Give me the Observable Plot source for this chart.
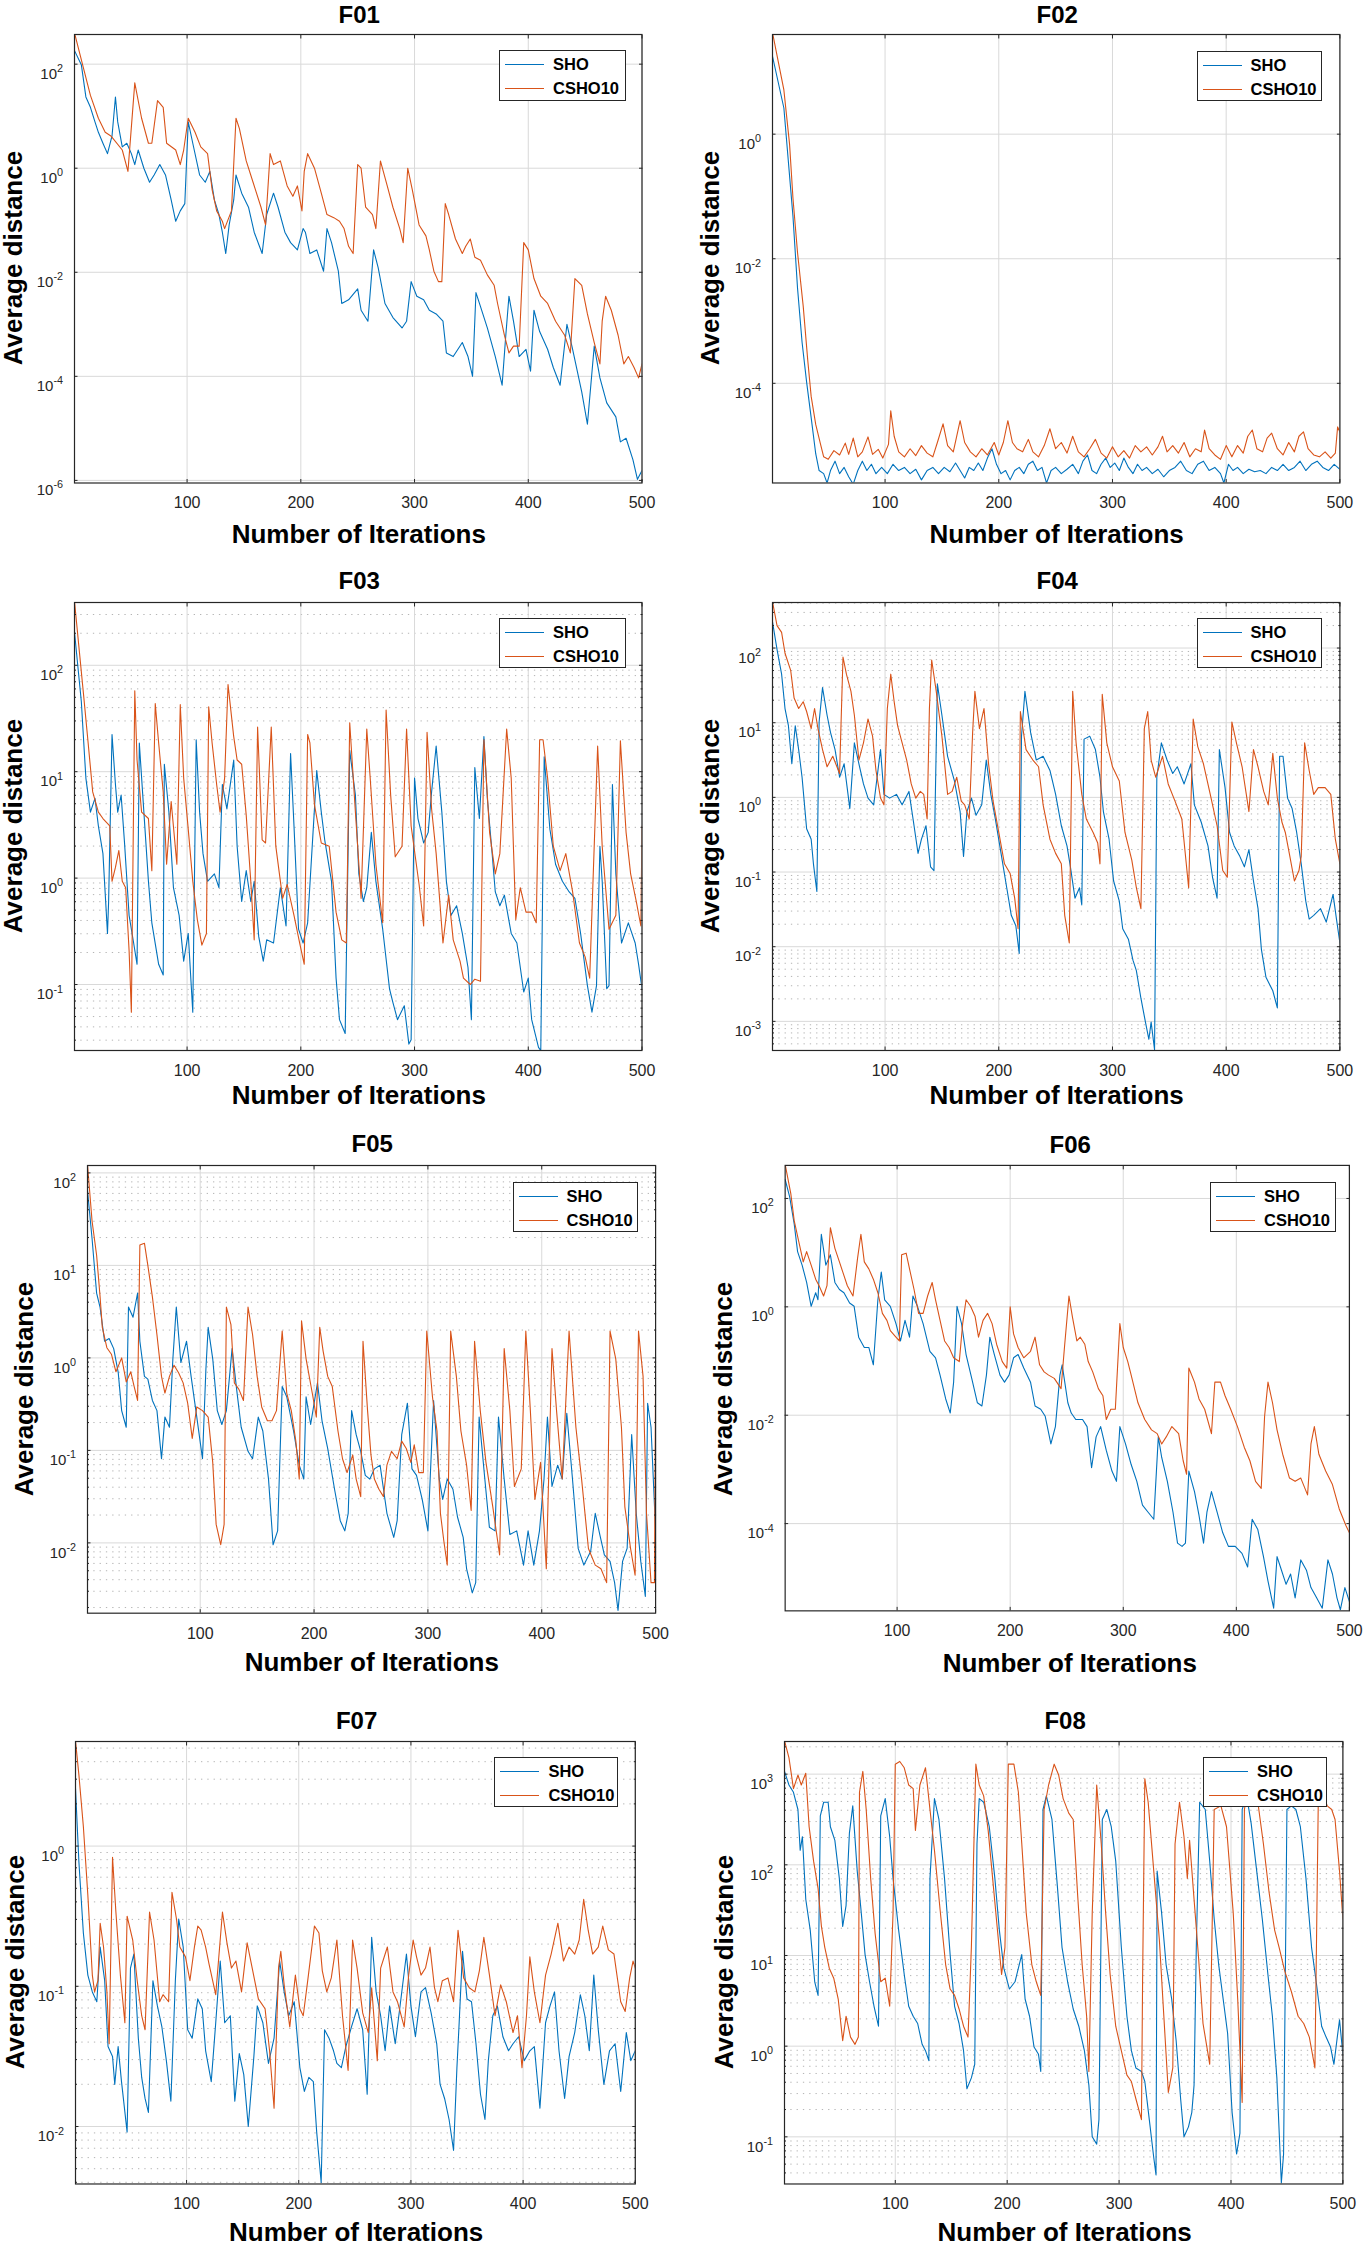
<!DOCTYPE html>
<html>
<head>
<meta charset="utf-8">
<script src="https://cdn.jsdelivr.net/npm/d3@7"></script>
<script src="https://cdn.jsdelivr.net/npm/@observablehq/plot@0.6"></script>
<style>
  html, body { margin: 0; padding: 0; background: #ffffff; }
  body { width: 1369px; height: 2245px; position: relative; overflow: hidden;
         font-family: "Liberation Sans", Arial, Helvetica, sans-serif; }
  .abs { position: absolute; }
  .title { font-weight: bold; font-size: 24px; color: #000; white-space: nowrap;
           transform: translate(-50%, -50%); line-height: 1; }
  .xlab { font-weight: bold; font-size: 26px; color: #000; white-space: nowrap;
          transform: translate(-50%, -50%); line-height: 1; }
  .ylab { font-weight: bold; font-size: 26px; color: #000; white-space: nowrap;
          transform: translate(-50%, -50%) rotate(-90deg); line-height: 1; }
  .legend { border: 1.3px solid #262626; background: #ffffff; box-sizing: border-box; }
  .legrow { position: absolute; left: 0; right: 0; height: 0; }
  .legline { position: absolute; left: 5px; width: 39px; height: 0; border-top: 1.3px solid; }
  .legtext { position: absolute; left: 53px; font-weight: bold; font-size: 16.5px; color: #000;
             transform: translateY(-50%); line-height: 1; white-space: nowrap; }
</style>
</head>
<body>
<div id="root"></div>
<script>
// ---------------- data: [iteration, log10(average distance)] ----------------
const seriesNames = ["SHO", "CSHO10"];
const xTicks = [100, 200, 300, 400, 500];

const f01Sho = [[1,2.26],[7,1.99],[11,1.37],[15,1.17],[19,0.89],[22,0.69],[26,0.48],[30,0.28],[34,0.62],[37,1.37],[39,0.89],[43,0.41],[47,0.48],[51,0.28],[54,0.07],[57,0.35],[62,0.0],[67,-0.27],[71,-0.13],[76,0.07],[81,-0.13],[86,-0.61],[90,-1.02],[94,-0.82],[98,-0.68],[101,0.89],[105,0.48],[111,-0.13],[116,-0.27],[120,-0.06],[124,-0.61],[128,-0.89],[131,-1.23],[134,-1.64],[137,-1.09],[141,-0.61],[143,-0.13],[148,-0.48],[154,-0.75],[159,-1.23],[166,-1.64],[170,-0.89],[176,-0.48],[180,-0.75],[186,-1.23],[191,-1.43],[197,-1.57],[202,-1.16],[204,-1.23],[208,-1.64],[214,-1.57],[220,-1.98],[223,-1.16],[227,-1.43],[233,-1.98],[236,-2.60],[242,-2.53],[250,-2.32],[253,-2.73],[259,-2.94],[264,-1.57],[268,-1.91],[274,-2.60],[281,-2.87],[289,-3.07],[293,-2.94],[297,-2.18],[302,-2.46],[308,-2.53],[313,-2.73],[319,-2.80],[325,-2.94],[328,-3.55],[334,-3.62],[342,-3.35],[347,-3.62],[351,-4.00],[354,-2.39],[358,-2.66],[364,-3.07],[371,-3.62],[377,-4.17],[380,-3.28],[383,-2.46],[387,-2.94],[392,-3.62],[398,-3.48],[402,-3.90],[405,-2.73],[410,-3.14],[417,-3.48],[422,-3.83],[428,-4.17],[434,-3.00],[439,-3.48],[447,-4.30],[452,-4.92],[458,-3.42],[463,-4.03],[469,-4.51],[477,-4.78],[481,-5.26],[486,-5.19],[492,-5.60],[496,-5.98],[500,-5.81]];
const f01Csho = [[1,2.6],[15,1.40],[22,0.96],[28,0.69],[33,0.62],[43,0.35],[48,-0.06],[54,1.64],[60,0.96],[66,0.48],[69,0.48],[74,1.30],[79,1.17],[82,0.48],[90,0.35],[94,0.07],[97,0.35],[101,0.96],[107,0.69],[112,0.41],[118,0.28],[122,-0.41],[126,-0.82],[131,-1.02],[133,-1.16],[139,-0.82],[143,0.96],[146,0.76],[152,0.14],[158,-0.27],[165,-0.75],[169,-1.09],[173,0.28],[176,0.07],[182,0.14],[188,-0.34],[193,-0.54],[197,-0.34],[201,-0.82],[203,-0.06],[206,0.28],[212,0.0],[218,-0.48],[223,-0.89],[229,-0.95],[234,-1.02],[238,-1.16],[242,-1.50],[246,-1.64],[250,0.07],[253,0.0],[257,-0.75],[263,-0.89],[266,-1.16],[270,0.14],[276,-0.34],[281,-0.75],[287,-1.16],[290,-1.43],[294,0.0],[298,-0.41],[304,-1.09],[310,-1.30],[313,-1.57],[317,-1.98],[321,-2.18],[324,-2.18],[327,-0.68],[330,-0.89],[336,-1.36],[342,-1.64],[345,-1.50],[349,-1.36],[353,-1.71],[358,-1.77],[364,-2.05],[370,-2.25],[373,-2.60],[379,-3.21],[383,-3.55],[387,-3.42],[392,-3.42],[396,-1.43],[400,-1.57],[405,-2.12],[411,-2.46],[417,-2.60],[424,-2.94],[432,-3.21],[437,-3.55],[441,-2.12],[447,-2.25],[452,-2.80],[458,-3.35],[463,-3.76],[465,-2.94],[468,-2.46],[473,-2.73],[479,-3.21],[484,-3.76],[488,-3.62],[493,-3.83],[497,-4.03],[500,-3.76]];

const f02Sho = [[1,1.25],[11,0.42],[15,-0.45],[19,-1.32],[23,-2.47],[27,-3.34],[31,-3.98],[35,-4.55],[39,-5.13],[42,-5.40],[46,-5.45],[49,-5.60],[52,-5.40],[56,-5.25],[60,-5.45],[64,-5.35],[68,-5.50],[72,-5.62],[76,-5.40],[80,-5.25],[84,-5.40],[88,-5.30],[92,-5.45],[97,-5.35],[102,-5.45],[107,-5.30],[112,-5.40],[117,-5.35],[122,-5.45],[127,-5.38],[132,-5.55],[137,-5.40],[142,-5.35],[147,-5.45],[152,-5.35],[157,-5.42],[162,-5.28],[166,-5.40],[170,-5.52],[174,-5.35],[178,-5.40],[182,-5.28],[186,-5.40],[190,-5.20],[194,-5.05],[198,-5.30],[202,-5.45],[206,-5.40],[210,-5.55],[214,-5.40],[218,-5.35],[222,-5.45],[226,-5.30],[230,-5.25],[234,-5.40],[238,-5.35],[242,-5.60],[246,-5.40],[250,-5.35],[255,-5.45],[260,-5.38],[265,-5.30],[270,-5.45],[274,-5.25],[278,-5.15],[282,-5.40],[286,-5.45],[290,-5.30],[294,-5.20],[298,-5.35],[302,-5.28],[306,-5.40],[310,-5.20],[314,-5.35],[318,-5.45],[322,-5.30],[326,-5.40],[330,-5.35],[335,-5.45],[340,-5.38],[345,-5.50],[350,-5.40],[355,-5.35],[360,-5.25],[365,-5.40],[370,-5.45],[375,-5.30],[380,-5.25],[385,-5.40],[390,-5.35],[395,-5.45],[398,-5.60],[402,-5.30],[406,-5.40],[410,-5.35],[415,-5.45],[420,-5.38],[425,-5.42],[430,-5.40],[435,-5.45],[440,-5.35],[445,-5.40],[450,-5.30],[455,-5.40],[460,-5.35],[465,-5.25],[470,-5.40],[475,-5.30],[480,-5.25],[485,-5.35],[490,-5.40],[495,-5.30],[500,-5.38]];
const f02Csho = [[1,1.63],[11,0.71],[16,-0.16],[19,-1.03],[23,-1.90],[28,-2.76],[32,-3.63],[35,-4.21],[39,-4.66],[43,-4.96],[46,-5.18],[50,-5.22],[55,-5.08],[60,-5.15],[65,-4.96],[68,-5.14],[72,-4.88],[76,-5.18],[80,-5.10],[85,-4.86],[89,-5.14],[94,-5.06],[98,-5.20],[103,-4.98],[105,-4.44],[108,-4.85],[112,-5.10],[117,-5.18],[122,-5.05],[127,-5.16],[132,-5.00],[137,-5.12],[142,-5.18],[146,-4.95],[151,-4.65],[155,-5.00],[160,-5.10],[166,-4.60],[170,-4.95],[175,-5.10],[180,-5.18],[185,-5.05],[190,-5.15],[196,-4.95],[200,-5.15],[204,-4.95],[208,-4.60],[212,-4.95],[216,-5.05],[221,-5.10],[226,-4.90],[230,-5.10],[235,-5.18],[240,-5.00],[245,-4.73],[250,-5.05],[255,-4.95],[260,-5.12],[265,-4.85],[270,-5.10],[275,-5.18],[280,-5.05],[285,-4.90],[290,-5.12],[295,-5.20],[300,-5.02],[305,-5.18],[310,-5.08],[315,-5.20],[320,-5.00],[325,-5.10],[330,-5.02],[335,-5.15],[340,-5.02],[344,-4.85],[348,-5.10],[353,-5.00],[358,-5.12],[363,-4.95],[368,-5.18],[373,-5.05],[378,-5.10],[381,-4.75],[385,-5.05],[390,-5.15],[395,-5.22],[400,-5.00],[405,-5.18],[410,-5.00],[415,-5.12],[419,-4.85],[423,-4.75],[427,-5.05],[432,-5.10],[436,-4.88],[440,-4.80],[445,-5.05],[450,-5.15],[455,-4.95],[460,-5.10],[464,-4.85],[468,-4.78],[472,-5.05],[477,-5.15],[482,-5.18],[487,-5.10],[492,-5.20],[496,-5.12],[498,-4.70],[500,-4.78]];

const f03Sho = [[1,2.31],[7,1.66],[11,0.94],[15,0.62],[19,0.75],[22,0.49],[26,0.23],[30,-0.52],[31,-0.22],[34,1.35],[37,0.88],[39,0.62],[42,0.78],[45,0.33],[49,-0.35],[53,-0.61],[56,-0.81],[58,1.27],[62,0.62],[66,-0.03],[69,-0.42],[75,-0.81],[79,-0.91],[80,1.07],[84,0.62],[88,-0.09],[93,-0.35],[97,-0.78],[101,-0.52],[105,-1.26],[108,1.30],[111,0.62],[114,0.23],[118,-0.03],[124,0.04],[128,-0.09],[131,0.88],[135,0.65],[141,1.11],[144,0.30],[148,-0.22],[152,0.07],[156,-0.22],[159,-0.03],[163,-0.55],[167,-0.78],[170,-0.58],[176,-0.61],[182,-0.09],[187,-0.45],[191,1.17],[194,0.49],[198,-0.48],[202,-0.61],[206,-0.42],[214,1.01],[218,0.62],[221,0.36],[227,-0.03],[231,-0.94],[234,-1.33],[239,-1.46],[243,1.20],[248,0.78],[251,0.04],[255,-0.22],[258,-0.09],[262,0.43],[266,-0.03],[272,-0.48],[278,-1.04],[281,-1.17],[285,-1.33],[291,-1.20],[295,-1.56],[297,-1.52],[300,0.94],[303,0.56],[308,0.33],[312,0.43],[315,0.81],[319,1.24],[324,0.62],[328,-0.03],[332,-0.35],[337,-0.26],[342,-0.52],[347,-0.84],[350,-1.33],[353,1.04],[357,0.56],[361,1.33],[364,0.75],[368,0.26],[371,-0.13],[375,-0.26],[379,-0.16],[385,-0.52],[390,-0.61],[396,-1.07],[400,-0.94],[403,-1.33],[409,-1.59],[411,-1.62],[414,1.14],[419,0.46],[424,0.13],[430,-0.03],[436,-0.13],[441,-0.19],[446,-0.52],[452,-1.01],[456,-1.26],[460,-1.01],[463,0.30],[465,-0.03],[469,-1.04],[471,-1.01],[474,0.88],[477,0.04],[482,-0.61],[488,-0.42],[494,-0.61],[497,-0.81],[500,-1.04]];
const f03Csho = [[1,2.6],[9,1.72],[13,1.27],[17,0.81],[22,0.62],[26,0.56],[32,0.49],[34,-0.03],[37,0.10],[40,0.26],[43,-0.03],[46,-0.09],[49,-0.68],[51,-1.26],[54,1.76],[56,1.11],[60,0.62],[66,0.56],[69,0.07],[72,1.64],[75,1.27],[79,0.81],[82,0.13],[86,0.72],[91,0.13],[94,1.63],[97,0.94],[101,0.46],[105,-0.03],[109,-0.39],[113,-0.63],[117,-0.52],[119,1.61],[122,1.27],[126,0.88],[129,0.62],[133,0.94],[136,1.82],[141,1.33],[144,1.11],[148,1.07],[152,0.59],[156,-0.03],[159,-0.58],[162,1.42],[166,0.36],[169,0.33],[174,1.42],[178,0.30],[184,-0.19],[188,-0.06],[194,-0.35],[199,-0.61],[203,-0.81],[206,1.35],[208,1.27],[212,0.69],[218,0.33],[225,0.30],[231,-0.32],[236,-0.58],[240,-0.61],[243,1.46],[248,0.62],[253,-0.19],[258,1.40],[261,0.94],[266,0.13],[272,-0.42],[275,1.58],[279,0.78],[283,0.20],[289,0.30],[293,1.40],[297,0.49],[304,-0.06],[308,-0.45],[311,1.37],[315,0.65],[319,0.23],[325,-0.61],[330,-0.16],[334,-0.58],[340,-0.78],[343,-0.94],[349,-1.00],[353,-0.95],[358,-0.97],[361,1.30],[366,0.43],[371,0.04],[375,0.23],[381,1.40],[385,0.94],[389,-0.39],[393,-0.09],[398,-0.32],[403,-0.32],[407,-0.42],[410,1.30],[413,1.30],[417,0.94],[422,0.30],[428,0.07],[433,0.23],[439,-0.13],[445,-0.61],[450,-0.74],[454,-0.94],[461,1.24],[465,0.30],[471,-0.48],[477,-0.35],[481,1.29],[486,0.43],[490,0.04],[495,-0.22],[499,-0.45],[500,0.49]];

const f04Sho = [[1,2.35],[5,1.98],[9,1.65],[12,1.19],[15,0.96],[18,0.45],[21,0.96],[24,0.64],[27,0.27],[31,-0.42],[35,-0.56],[37,-0.89],[40,-1.26],[42,1.01],[45,1.47],[49,1.10],[52,0.87],[56,0.64],[60,0.27],[64,0.45],[69,-0.15],[73,0.73],[77,0.45],[81,0.18],[85,-0.01],[90,-0.10],[96,0.64],[99,0.04],[104,-0.01],[110,0.04],[115,-0.10],[121,0.08],[125,-0.33],[129,-0.75],[132,-0.56],[136,-0.38],[140,-0.93],[143,-0.98],[146,1.52],[150,1.10],[155,0.55],[161,0.22],[166,-0.19],[169,-0.79],[172,-0.19],[176,-0.01],[180,-0.24],[185,-0.10],[189,0.50],[193,0.04],[197,-0.29],[202,-0.75],[207,-1.21],[211,-1.58],[215,-1.72],[218,-2.09],[220,0.82],[223,1.42],[228,0.87],[233,0.50],[239,0.55],[245,0.36],[250,0.04],[255,-0.38],[260,-0.65],[263,-0.93],[267,-1.35],[271,-1.21],[273,-1.44],[275,0.78],[280,0.82],[285,0.64],[289,0.27],[292,-0.19],[297,-0.56],[301,-1.12],[306,-1.39],[309,-1.76],[314,-1.90],[318,-2.18],[321,-2.32],[325,-2.69],[329,-3.01],[332,-3.24],[334,-3.01],[337,-3.38],[339,0.27],[343,0.73],[348,0.50],[353,0.32],[357,0.41],[363,0.18],[369,0.45],[372,-0.10],[378,-0.33],[384,-0.65],[388,-1.07],[392,-1.35],[394,0.64],[399,0.13],[403,-0.47],[407,-0.65],[412,-0.79],[416,-0.93],[420,-0.70],[424,-1.12],[428,-1.49],[431,-2.04],[435,-2.41],[441,-2.59],[445,-2.82],[447,0.55],[450,0.55],[454,-0.01],[458,-0.15],[462,-0.47],[466,-0.89],[470,-1.39],[473,-1.63],[477,-1.58],[483,-1.49],[488,-1.67],[494,-1.30],[497,-1.63],[500,-1.95]];
const f04Csho = [[1,2.62],[5,2.30],[9,2.21],[12,1.93],[17,1.70],[20,1.33],[24,1.19],[28,1.28],[31,1.15],[35,0.92],[38,1.19],[41,0.92],[45,0.64],[49,0.41],[54,0.55],[60,0.32],[63,1.88],[66,1.65],[70,1.42],[73,1.10],[77,0.50],[81,0.73],[85,1.05],[89,0.82],[92,0.36],[96,-0.01],[99,-0.10],[102,1.19],[105,1.65],[108,1.28],[111,0.96],[115,0.73],[119,0.50],[123,0.18],[127,-0.01],[131,0.08],[134,0.04],[137,-0.29],[139,1.19],[141,1.84],[145,1.42],[150,0.82],[155,0.04],[159,0.08],[163,0.27],[167,-0.05],[170,-0.10],[174,-0.29],[177,0.87],[179,1.42],[183,0.92],[187,1.19],[191,0.45],[195,-0.05],[200,-0.47],[205,-0.89],[210,-1.02],[214,-1.35],[217,-1.76],[219,1.15],[224,0.64],[230,0.50],[235,0.41],[239,-0.10],[245,-0.56],[250,-0.75],[255,-0.89],[258,-1.58],[262,-1.95],[265,1.42],[268,0.73],[273,0.04],[277,-0.29],[283,-0.47],[287,-0.61],[289,-0.89],[291,1.38],[295,0.73],[300,0.41],[306,0.22],[311,-0.47],[317,-0.84],[321,-1.21],[325,-1.49],[328,0.92],[331,1.15],[334,0.50],[338,0.27],[344,0.55],[349,0.18],[355,-0.05],[361,-0.29],[367,-1.21],[371,1.05],[375,0.68],[380,0.45],[386,0.04],[392,-0.38],[397,-0.98],[401,-1.07],[405,1.01],[409,0.73],[414,0.41],[420,-0.19],[424,0.64],[428,0.41],[433,0.08],[437,-0.10],[441,0.59],[445,-0.01],[449,-0.33],[452,-0.47],[456,-0.79],[460,-1.12],[464,-0.98],[466,-0.79],[469,0.73],[473,0.36],[477,0.04],[481,0.13],[487,0.13],[492,0.04],[496,-0.56],[500,-0.89]];

const f05Sho = [[1,1.81],[5,1.29],[9,0.70],[12,0.55],[16,0.18],[20,0.21],[24,0.10],[28,-0.16],[31,-0.57],[35,-0.75],[37,0.55],[41,0.44],[45,0.70],[47,0.18],[51,-0.20],[54,-0.23],[58,-0.46],[62,-0.57],[66,-1.09],[69,-0.64],[73,-0.75],[76,-0.01],[79,0.55],[83,-0.05],[88,0.18],[92,-0.20],[97,-0.64],[102,-1.09],[105,-0.12],[107,0.33],[111,-0.01],[115,-0.57],[119,-0.72],[123,-0.57],[128,0.10],[132,-0.34],[136,-0.75],[142,-1.01],[146,-1.09],[151,-0.64],[155,-0.79],[160,-1.31],[164,-2.02],[168,-1.87],[172,-0.31],[176,-0.42],[182,-0.79],[187,-1.16],[191,-1.31],[193,-0.42],[197,-0.72],[203,-0.27],[207,-0.68],[212,-0.98],[218,-1.42],[223,-1.76],[227,-1.87],[230,-1.68],[233,-0.57],[237,-0.83],[241,-1.01],[245,-1.27],[249,-1.31],[253,-1.20],[258,-1.16],[264,-1.68],[270,-1.94],[273,-1.76],[277,-0.83],[282,-0.49],[286,-1.20],[290,-1.27],[295,-1.53],[300,-1.87],[305,-0.46],[310,-1.31],[313,-1.53],[317,-1.31],[322,-1.42],[326,-1.72],[331,-1.94],[334,-2.28],[339,-2.54],[342,-2.43],[345,-0.64],[350,-1.31],[354,-1.83],[359,-1.87],[362,-0.64],[367,-1.31],[372,-1.91],[378,-1.87],[384,-2.24],[388,-1.87],[393,-2.24],[398,-1.87],[402,-1.31],[405,-0.64],[409,-1.39],[414,-1.16],[418,-1.31],[422,-0.60],[427,-1.31],[432,-2.06],[437,-2.24],[443,-2.09],[447,-1.68],[451,-1.91],[455,-2.13],[460,-2.20],[464,-2.43],[467,-2.73],[471,-2.20],[475,-2.06],[479,-0.83],[483,-1.68],[487,-2.20],[491,-2.58],[493,-0.49],[496,-0.75],[500,-1.87]];
const f05Csho = [[1,2.09],[5,1.48],[9,1.11],[12,0.67],[14,0.33],[18,0.11],[22,0.04],[26,-0.15],[31,0.00],[35,-0.26],[39,-0.15],[42,-0.31],[45,-0.46],[47,1.22],[51,1.24],[54,1.00],[58,0.66],[62,0.25],[66,-0.20],[69,-0.38],[73,-0.20],[77,-0.08],[81,-0.16],[85,-0.27],[89,-0.49],[93,-0.87],[97,-0.53],[102,-0.57],[107,-0.64],[111,-1.13],[114,-1.80],[118,-2.02],[121,-1.80],[123,0.55],[127,0.36],[130,-0.27],[134,-0.34],[138,-0.46],[142,0.55],[146,0.25],[150,-0.20],[154,-0.53],[159,-0.68],[163,-0.68],[167,-0.57],[172,0.29],[176,-0.38],[180,-0.57],[184,-0.90],[187,-1.31],[189,0.40],[193,-0.01],[199,-0.42],[202,-0.64],[205,0.33],[208,0.07],[212,-0.20],[216,-0.31],[221,-0.79],[225,-1.09],[229,-1.24],[234,-1.05],[237,-1.31],[241,-1.50],[243,0.18],[247,-0.57],[250,-1.05],[253,-1.31],[257,-1.42],[261,-1.50],[264,-1.16],[268,-1.01],[273,-1.09],[277,-0.90],[281,-0.98],[285,-1.13],[288,-0.94],[292,-1.24],[296,-1.24],[299,0.29],[304,-0.42],[308,-0.79],[311,-1.68],[314,-1.98],[317,-2.24],[320,0.29],[325,-0.20],[329,-0.79],[334,-1.16],[338,-1.65],[341,0.18],[346,-0.57],[351,-1.13],[357,-1.61],[363,-2.13],[367,0.10],[372,-0.57],[376,-1.39],[382,-1.20],[386,0.29],[390,-0.57],[394,-1.53],[399,-1.13],[404,-2.28],[409,0.10],[413,-0.57],[418,-1.31],[424,0.29],[430,-0.75],[435,-1.31],[441,-2.06],[447,-2.24],[452,-2.28],[457,-2.43],[460,0.29],[465,-0.01],[470,-0.75],[473,-1.61],[478,-2.06],[482,-2.35],[485,0.29],[489,-0.20],[492,-1.68],[496,-2.43],[499,-2.43],[500,-0.20]];

const f06Sho = [[1,2.35],[5,2.03],[9,1.53],[12,1.02],[16,0.77],[20,0.45],[24,0.01],[28,0.26],[30,0.13],[33,1.34],[37,0.77],[41,0.96],[45,0.45],[49,0.32],[53,0.26],[58,0.07],[62,0.01],[66,-0.56],[71,-0.75],[75,-0.75],[79,-1.07],[83,0.13],[86,0.64],[89,0.13],[94,0.01],[99,-0.31],[103,-0.63],[107,-0.25],[111,-0.56],[114,0.20],[118,0.01],[123,-0.31],[129,-0.82],[134,-0.94],[138,-1.26],[143,-1.70],[147,-1.96],[150,-1.39],[153,0.01],[157,-0.31],[161,-0.88],[166,-1.32],[171,-1.77],[175,-1.83],[179,-1.26],[182,-0.56],[186,-0.88],[191,-1.26],[195,-1.39],[199,-1.26],[203,-0.94],[207,-0.88],[212,-1.13],[218,-1.39],[222,-1.83],[227,-1.89],[231,-2.02],[236,-2.53],[240,-2.21],[244,-1.26],[246,-1.07],[251,-1.77],[254,-1.96],[258,-2.08],[264,-2.08],[268,-2.21],[272,-2.97],[276,-2.40],[280,-2.21],[285,-2.65],[290,-3.03],[294,-3.22],[297,-2.21],[302,-2.53],[307,-2.91],[312,-3.22],[317,-3.66],[322,-3.79],[327,-3.92],[331,-2.40],[334,-2.78],[339,-3.22],[344,-3.79],[348,-4.36],[352,-4.42],[355,-4.36],[358,-3.03],[363,-3.41],[367,-3.85],[371,-4.36],[374,-3.79],[378,-3.41],[383,-3.79],[388,-4.17],[393,-4.42],[399,-4.42],[405,-4.55],[410,-4.80],[414,-3.92],[419,-4.11],[424,-4.61],[428,-5.06],[433,-5.56],[436,-4.61],[439,-4.80],[444,-5.12],[448,-4.93],[452,-5.37],[457,-4.67],[462,-4.86],[466,-5.18],[471,-5.37],[476,-5.56],[481,-4.67],[485,-4.93],[489,-5.37],[492,-5.59],[496,-5.18],[500,-5.44]];
const f06Csho = [[1,2.63],[6,2.09],[9,1.59],[13,1.21],[17,0.83],[20,1.02],[24,0.77],[28,0.51],[31,0.39],[35,0.20],[38,0.39],[41,1.46],[45,1.08],[49,0.83],[52,0.64],[56,0.39],[61,0.20],[65,0.89],[68,1.34],[71,0.83],[75,0.70],[79,0.51],[83,0.26],[87,-0.12],[91,-0.25],[94,-0.44],[99,-0.56],[102,-0.63],[104,0.96],[108,0.99],[111,0.70],[115,0.32],[119,-0.12],[123,-0.12],[127,0.20],[131,0.45],[134,0.13],[138,-0.25],[142,-0.63],[146,-0.75],[150,-0.94],[155,-1.01],[158,-0.31],[161,0.13],[165,0.01],[169,-0.18],[172,-0.56],[176,-0.25],[180,-0.12],[184,-0.31],[188,-0.69],[193,-1.01],[197,-1.13],[200,0.0],[203,-0.50],[207,-0.75],[212,-0.94],[218,-0.82],[222,-0.56],[226,-1.07],[230,-1.20],[234,-1.26],[239,-1.32],[245,-1.51],[248,-0.75],[252,0.20],[255,-0.18],[259,-0.63],[262,-0.56],[266,-0.69],[269,-1.01],[273,-1.20],[278,-1.51],[282,-1.64],[285,-2.08],[289,-1.89],[293,-1.89],[297,-0.31],[300,-0.75],[304,-1.01],[307,-1.26],[313,-1.77],[319,-2.08],[325,-2.27],[330,-2.34],[334,-2.53],[338,-2.40],[343,-2.21],[349,-2.34],[353,-2.84],[356,-3.09],[358,-1.13],[363,-1.39],[367,-1.70],[372,-1.89],[378,-2.34],[381,-1.39],[386,-1.39],[390,-1.64],[395,-1.89],[401,-2.21],[407,-2.59],[412,-2.84],[417,-3.22],[422,-3.35],[425,-2.02],[428,-1.39],[432,-1.77],[436,-2.27],[441,-2.72],[447,-3.16],[452,-3.22],[457,-3.16],[463,-3.47],[466,-2.53],[469,-2.21],[473,-2.72],[479,-3.03],[485,-3.28],[491,-3.73],[497,-4.04],[500,-4.17]];

const f07Sho = [[1,0.41],[4,-0.11],[8,-0.62],[12,-0.92],[16,-1.04],[20,-1.11],[23,-0.72],[27,-0.96],[30,-1.43],[34,-1.50],[36,-1.70],[39,-1.43],[42,-1.68],[47,-2.04],[50,-0.87],[53,-0.77],[57,-1.37],[60,-1.65],[63,-1.80],[66,-1.90],[70,-0.96],[74,-1.14],[78,-1.29],[82,-1.53],[86,-1.82],[90,-0.96],[93,-0.52],[97,-0.72],[101,-1.31],[105,-1.37],[110,-1.09],[114,-1.16],[117,-1.46],[122,-1.68],[126,-1.26],[130,-0.82],[134,-1.26],[139,-1.21],[143,-1.82],[147,-1.48],[151,-1.63],[155,-2.00],[160,-1.50],[163,-1.14],[168,-1.26],[173,-1.55],[178,-1.37],[183,-0.82],[187,-1.04],[191,-1.21],[196,-1.11],[201,-1.58],[205,-1.75],[209,-1.65],[213,-1.68],[216,-2.04],[220,-2.40],[223,-1.31],[227,-1.37],[231,-1.46],[234,-1.55],[238,-1.58],[242,-1.43],[247,-1.29],[252,-1.16],[257,-1.31],[261,-1.77],[265,-0.65],[269,-1.04],[273,-1.21],[277,-1.46],[281,-1.14],[286,-1.41],[290,-1.16],[296,-0.77],[300,-1.14],[304,-1.36],[309,-1.04],[313,-1.01],[318,-1.19],[323,-1.41],[326,-1.70],[330,-1.80],[334,-1.95],[338,-2.17],[341,-1.58],[343,-1.26],[346,-0.75],[350,-1.09],[354,-1.11],[358,-1.41],[362,-1.77],[366,-1.95],[369,-1.53],[373,-1.21],[377,-1.14],[382,-1.36],[387,-1.46],[391,-1.41],[396,-1.36],[401,-1.53],[406,-1.46],[410,-1.43],[415,-1.87],[420,-1.26],[424,-1.14],[428,-1.04],[432,-1.46],[437,-1.80],[441,-1.50],[446,-1.33],[451,-1.06],[455,-1.21],[459,-1.46],[463,-0.92],[467,-1.31],[472,-1.70],[477,-1.46],[482,-1.41],[487,-1.75],[492,-1.33],[496,-1.53],[500,-1.46]];
const f07Csho = [[1,0.75],[4,0.51],[8,0.14],[12,-0.35],[16,-0.92],[18,-1.04],[21,-0.96],[23,-0.55],[26,-0.72],[29,-1.04],[31,-1.41],[34,-0.08],[37,-0.47],[41,-0.92],[45,-1.26],[47,-0.50],[52,-0.67],[56,-0.96],[60,-1.21],[63,-1.31],[67,-0.47],[71,-0.67],[76,-1.11],[79,-1.06],[84,-1.11],[87,-0.33],[91,-0.52],[94,-0.72],[99,-0.79],[103,-0.96],[107,-0.72],[110,-0.57],[113,-0.60],[117,-0.72],[120,-0.84],[126,-1.06],[132,-0.47],[136,-0.69],[140,-0.87],[144,-0.82],[149,-1.04],[154,-0.69],[159,-0.89],[164,-1.09],[170,-1.16],[174,-1.46],[178,-1.87],[182,-0.87],[184,-0.75],[187,-0.99],[192,-1.29],[197,-0.92],[201,-1.16],[204,-1.21],[208,-0.96],[214,-0.57],[218,-0.62],[221,-0.89],[225,-1.04],[229,-0.94],[234,-0.67],[239,-1.21],[244,-1.60],[248,-0.67],[252,-0.87],[257,-1.19],[262,-1.33],[265,-1.01],[270,-1.53],[273,-0.87],[279,-0.72],[284,-1.04],[288,-1.11],[294,-1.29],[298,-0.92],[302,-0.67],[305,-0.79],[309,-0.92],[313,-0.87],[317,-0.72],[321,-1.01],[324,-1.11],[328,-0.96],[333,-0.94],[338,-1.11],[342,-0.60],[347,-0.94],[352,-1.01],[357,-1.04],[361,-0.89],[365,-0.65],[370,-0.92],[375,-1.21],[380,-0.99],[385,-1.11],[391,-1.33],[395,-1.21],[399,-1.58],[403,-1.21],[406,-0.79],[410,-1.04],[415,-1.26],[420,-0.92],[425,-0.77],[431,-0.55],[436,-0.82],[441,-0.72],[446,-0.77],[450,-0.67],[454,-0.38],[458,-0.60],[462,-0.77],[467,-0.72],[471,-0.57],[476,-0.74],[481,-0.77],[487,-1.11],[491,-1.18],[495,-0.94],[498,-0.82],[500,-0.87]];

const f08Sho = [[1,3.03],[5,2.88],[9,2.80],[13,2.61],[15,2.16],[17,2.31],[20,1.62],[24,1.28],[28,0.71],[31,0.56],[33,2.54],[36,2.69],[40,2.69],[42,2.42],[46,2.27],[50,1.85],[53,1.32],[56,1.55],[59,2.35],[62,2.65],[66,1.93],[69,1.55],[73,1.01],[77,0.71],[81,0.44],[85,0.22],[87,2.54],[91,2.73],[95,2.31],[98,1.85],[103,1.28],[108,0.79],[112,0.44],[116,0.33],[120,0.25],[124,0.02],[127,-0.05],[130,-0.16],[131,1.85],[135,2.73],[139,2.50],[144,1.85],[149,1.01],[153,0.44],[157,0.25],[161,-0.05],[164,-0.47],[168,-0.35],[171,-0.20],[173,2.23],[175,2.73],[179,2.69],[184,2.42],[189,1.85],[193,1.28],[197,0.86],[202,0.63],[207,0.71],[213,1.01],[216,0.52],[220,0.33],[224,-0.01],[228,-0.09],[230,-0.28],[232,2.61],[235,2.76],[240,2.50],[245,1.74],[249,1.09],[254,0.71],[259,0.41],[264,0.22],[269,-0.05],[273,-0.43],[276,-1.00],[280,-1.08],[282,-0.81],[285,2.50],[289,2.61],[293,2.42],[297,2.04],[302,1.09],[307,0.33],[311,-0.05],[315,-0.24],[320,-0.28],[323,-0.39],[327,-0.81],[331,-1.23],[333,-1.42],[334,1.93],[338,1.47],[342,0.90],[347,0.52],[351,0.06],[355,-0.58],[358,-1.00],[362,-0.89],[365,-0.73],[367,-0.43],[369,1.09],[372,2.69],[377,2.61],[381,2.04],[385,1.40],[389,0.90],[393,0.52],[397,0.14],[401,-0.73],[405,-1.19],[408,-0.96],[410,2.61],[414,2.76],[418,2.46],[423,1.93],[428,1.40],[433,0.79],[437,0.33],[441,-0.35],[445,-1.51],[447,-1.19],[450,2.61],[454,2.65],[458,2.61],[462,2.42],[467,1.85],[472,1.09],[477,0.63],[481,0.22],[485,0.10],[489,-0.01],[492,-0.20],[495,0.10],[497,0.29],[500,-0.09]];
const f08Csho = [[1,3.37],[5,3.18],[9,2.84],[13,2.99],[16,2.88],[20,3.01],[23,2.42],[27,2.04],[31,1.74],[34,1.32],[37,1.09],[41,0.86],[45,0.75],[49,0.52],[53,0.06],[56,0.33],[60,0.10],[64,0.02],[67,0.10],[68,2.80],[71,3.03],[74,2.61],[78,1.85],[82,1.24],[87,0.71],[91,0.75],[95,0.44],[98,1.47],[100,3.11],[104,3.14],[108,3.07],[112,2.88],[116,2.84],[118,2.38],[122,2.88],[127,3.07],[131,2.61],[135,2.16],[140,1.51],[145,0.90],[149,0.63],[153,0.56],[157,0.41],[161,0.22],[165,0.10],[168,1.09],[172,3.11],[175,2.88],[179,2.76],[183,2.38],[187,1.85],[191,1.32],[195,0.79],[198,1.09],[201,3.11],[206,3.11],[210,2.80],[213,2.24],[217,1.47],[222,0.90],[226,0.71],[230,0.56],[233,2.61],[237,2.88],[242,3.11],[246,2.99],[250,2.73],[255,2.57],[259,2.50],[263,1.66],[267,0.90],[271,0.33],[273,-0.28],[276,1.47],[280,2.88],[284,2.24],[288,1.47],[292,0.79],[297,0.22],[302,-0.05],[307,-0.32],[311,-0.39],[315,-0.58],[320,-0.81],[321,0.71],[323,2.95],[326,2.69],[331,1.93],[336,1.17],[340,0.33],[344,-0.51],[348,-0.24],[350,2.23],[354,2.69],[358,2.31],[361,1.85],[363,2.27],[367,1.62],[371,0.98],[375,0.25],[379,-0.05],[381,-0.20],[385,2.61],[391,2.65],[396,2.42],[402,1.47],[406,0.52],[410,-0.62],[412,2.61],[416,2.88],[420,2.84],[424,2.69],[429,2.23],[434,1.70],[439,1.28],[443,1.09],[448,0.83],[454,0.60],[460,0.33],[465,0.25],[470,0.10],[475,-0.24],[478,2.69],[482,2.80],[486,2.65],[490,2.61],[493,2.50],[497,1.93],[500,1.40]];

const panelData = {
  F01: [f01Sho, f01Csho], F02: [f02Sho, f02Csho], F03: [f03Sho, f03Csho], F04: [f04Sho, f04Csho],
  F05: [f05Sho, f05Csho], F06: [f06Sho, f06Csho], F07: [f07Sho, f07Csho], F08: [f08Sho, f08Csho]
};
// y axis range (log10) and labelled decades
const yRange = {
  F01: [-6.05, 2.57], F02: [-5.6, 1.6], F03: [-1.62, 2.59], F04: [-3.39, 2.61],
  F05: [-2.76, 2.08], F06: [-5.61, 2.61], F07: [-2.41, 0.746], F08: [-1.52, 3.36]
};
const yTickExp = {
  F01: [2, 0, -2, -4, -6], F02: [0, -2, -4], F03: [2, 1, 0, -1], F04: [2, 1, 0, -1, -2, -3],
  F05: [2, 1, 0, -1, -2], F06: [2, 0, -2, -4], F07: [0, -1, -2], F08: [3, 2, 1, 0, -1]
};
const minorGrid = { F01: false, F02: false, F03: true, F04: true, F05: true, F06: false, F07: true, F08: true };

// ---------------- layout (page pixels) ----------------
const layout = {
  F01: {l: 74,    r: 641.5,  t: 33.5,   b: 482,   ylx: 13,    ty: 14.5,   xly: 534,  leg: [499, 50, 626, 100.5]},
  F02: {l: 772,   r: 1339.4, t: 33.5,   b: 482,   ylx: 709.5, ty: 14.5,   xly: 534,  leg: [1196.5, 50.5, 1322, 100.5]},
  F03: {l: 74,    r: 641.5,  t: 601.5,  b: 1049.5,ylx: 13,    ty: 580.5,  xly: 1095, leg: [499, 618, 625.5, 668]},
  F04: {l: 772,   r: 1339.4, t: 601.5,  b: 1049.5,ylx: 709.5, ty: 580.5,  xly: 1095, leg: [1196.5, 618, 1322, 668]},
  F05: {l: 86.7,  r: 654.8,  t: 1165.3, b: 1613,  ylx: 24,    ty: 1144,   xly: 1662, leg: [512.6, 1182, 638.3, 1232]},
  F06: {l: 785.2, r: 1352.3, t: 1165.3, b: 1613,  ylx: 722.5, ty: 1145,   xly: 1663, leg: [1210, 1182, 1336, 1232]},
  F07: {l: 75.2,  r: 635,    t: 1740.5, b: 2183,  ylx: 15,    ty: 1720.5, xly: 2232, leg: [494.4, 1757, 618.4, 1806.6]},
  F08: {l: 784.4, r: 1342.8, t: 1740.5, b: 2183,  ylx: 724,   ty: 1720.5, xly: 2232, leg: [1203, 1757, 1327, 1806.6]}
};

const COLORS = ["#0072BD", "#D95319"];
const FONT = '"Liberation Sans", Arial, Helvetica, sans-serif';
const root = document.getElementById("root");
const SVGNS = "http://www.w3.org/2000/svg";

function div(cls, x, y, text) {
  const d = document.createElement("div");
  d.className = "abs " + cls;
  d.style.left = x + "px";
  d.style.top = y + "px";
  if (text != null) d.textContent = text;
  root.appendChild(d);
  return d;
}

for (const name of Object.keys(layout)) {
  const p = layout[name];
  const [lo, hi] = yRange[name];
  const yMin = Math.pow(10, lo), yMax = Math.pow(10, hi);
  const [sho, csho] = panelData[name];
  const rows = [];
  sho.forEach(([it, e]) => rows.push({it, v: Math.pow(10, e), s: seriesNames[0]}));
  csho.forEach(([it, e]) => rows.push({it, v: Math.pow(10, e), s: seriesNames[1]}));
  const major = yTickExp[name].map(e => Math.pow(10, e));
  const minor = [];
  if (minorGrid[name]) {
    for (let k = Math.floor(lo); k < Math.ceil(hi); k++) {
      for (let m = 2; m <= 9; m++) {
        const v = m * Math.pow(10, k);
        if (v > yMin && v < yMax) minor.push(v);
      }
    }
  }
  const padL = 70, padR = 20, padT = 20, padB = 40;
  const W = p.r - p.l, H = p.b - p.t;
  const marks = [];
  if (minor.length) marks.push(Plot.ruleY(minor, {stroke: "#b4b4b4", strokeDasharray: "1.3,5", strokeWidth: 1}));
  marks.push(Plot.ruleY(major, {stroke: "#d9d9d9", strokeWidth: 1}));
  marks.push(Plot.ruleX(xTicks, {stroke: "#d9d9d9", strokeWidth: 1}));
  marks.push(Plot.line(rows, {x: "it", y: "v", z: "s", stroke: "s", strokeWidth: 1.1, clip: true}));
  marks.push(Plot.frame({stroke: "#262626", strokeWidth: 1.2}));
  marks.push(Plot.axisX({anchor: "bottom", ticks: xTicks, tickSize: -3.5, tickPadding: 17.5, tickFormat: d => String(d), label: null, fontSize: 16}));
  marks.push(Plot.axisX({anchor: "top", ticks: xTicks, tickSize: -3.5, tickFormat: () => "", label: null}));
  marks.push(Plot.axisY({anchor: "left", ticks: major, tickSize: -3.5, tickPadding: 15, tickFormat: d => "10^" + Math.round(Math.log10(d)), label: null, fontSize: 15}));
  marks.push(Plot.axisY({anchor: "right", ticks: major, tickSize: -3.5, tickFormat: () => "", label: null}));
  if (minor.length) {
    marks.push(Plot.axisY({anchor: "left", ticks: minor, tickSize: -2, tickFormat: () => "", label: null}));
    marks.push(Plot.axisY({anchor: "right", ticks: minor, tickSize: -2, tickFormat: () => "", label: null}));
  }
  const svg = Plot.plot({
    width: W + padL + padR,
    height: H + padT + padB,
    marginLeft: padL, marginRight: padR, marginTop: padT, marginBottom: padB,
    style: {fontFamily: FONT, fontSize: "16px", color: "#262626", background: "transparent", overflow: "visible"},
    x: {domain: [1, 500]},
    y: {type: "log", domain: [yMin, yMax]},
    color: {domain: seriesNames, range: COLORS},
    marks
  });
  // superscript exponents on y tick labels
  svg.querySelectorAll('[aria-label="y-axis tick label"] text').forEach(t => {
    const s = t.textContent;
    if (!s.startsWith("10^")) return;
    const e = s.slice(3);
    t.textContent = "10";
    const ts = document.createElementNS(SVGNS, "tspan");
    ts.setAttribute("dy", "-0.62em");
    ts.setAttribute("font-size", "0.72em");
    ts.textContent = e;
    t.appendChild(ts);
    t.setAttribute("dy", "0.66em");
  });
  const holder = div("", p.l - padL, p.t - padT);
  holder.appendChild(svg);

  const cx = (p.l + p.r) / 2;
  div("title", cx + 1.5, p.ty, name);
  div("xlab", cx + 1, p.xly, "Number of Iterations");
  div("ylab", p.ylx, (p.t + p.b) / 2, "Average distance");

  const [lx0, ly0, lx1, ly1] = p.leg;
  const lg = div("legend", lx0, ly0);
  lg.style.width = (lx1 - lx0) + "px";
  lg.style.height = (ly1 - ly0) + "px";
  seriesNames.forEach((sn, i) => {
    const row = document.createElement("div");
    row.className = "legrow";
    row.style.top = (i === 0 ? 13 : 37) + "px";
    const ln = document.createElement("div");
    ln.className = "legline";
    ln.style.borderTopColor = COLORS[i];
    const tx = document.createElement("div");
    tx.className = "legtext";
    tx.textContent = sn;
    row.appendChild(ln);
    row.appendChild(tx);
    lg.appendChild(row);
  });
}
</script>
</body>
</html>
